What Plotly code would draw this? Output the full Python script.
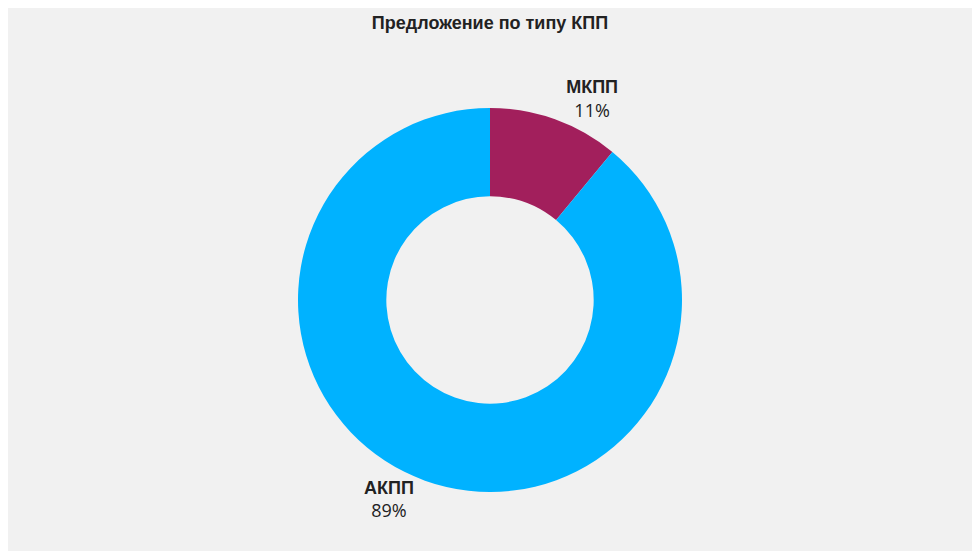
import plotly.graph_objects as go

labels = ["МКПП", "АКПП"]
values = [11, 89]
colors = ["#A21F5C", "#00B2FF"]

fig = go.Figure(go.Pie(
    labels=labels, values=values, hole=0.54, sort=False,
    direction="clockwise", rotation=0,
    marker=dict(colors=colors, line=dict(width=0)),
    textposition="outside",
    texttemplate="<b>%{label}</b><br><span style='font-family:Open Sans'>%{percent:.0%}</span>",
    textfont=dict(size=18, color="#222222", family="Liberation Sans"),
    showlegend=False, automargin=False,
))
fig.update_layout(
    width=980, height=551,
    paper_bgcolor="#F1F1F1", plot_bgcolor="#F1F1F1",
    margin=dict(t=100, b=67, l=0, r=16),
    title=dict(text="<b>Предложение по типу КПП</b>", x=0.5, xref="paper", y=0.985, yanchor="top", xanchor="center",
               font=dict(size=18, color="#222222", family="Liberation Sans")),
)
fig.write_html("out.html", config={"displayModeBar": False})
